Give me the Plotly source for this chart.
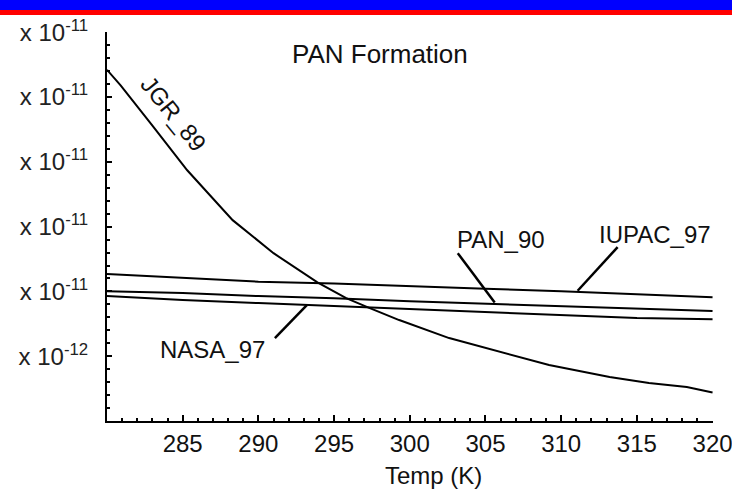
import plotly.graph_objects as go

# ---- data (rate constants in units of 1e-12) ----
temp_jgr = [280, 280.9, 283, 285.3, 288.3, 291, 293.9, 295.8, 297.2, 299.3, 302.6, 309.2, 313.2, 315.8, 318.3, 320]
k_jgr = [27.1, 25.9, 22.8, 19.35, 15.5, 12.95, 10.7, 9.48, 8.79, 7.79, 6.4, 4.32, 3.39, 2.93, 2.62, 2.2]

temp_lin = [280, 285, 290, 295, 300, 305, 310, 315, 320]
k_iupac = [11.35, 11.05, 10.75, 10.62, 10.4, 10.2, 10.02, 9.8, 9.55]
k_pan90 = [10.02, 9.87, 9.64, 9.48, 9.25, 9.06, 8.87, 8.71, 8.48]
k_nasa = [9.64, 9.33, 9.1, 8.87, 8.64, 8.4, 8.13, 7.94, 7.86]

x_tickvals = [285, 290, 295, 300, 305, 310, 315, 320]
x_ticktext = ["285", "290", "295", "300", "305", "310", "315", "320"]
y_tickvals = [5, 10, 15, 20, 25, 30]
NB = "\u00a0"
y_ticktext = ["x" + NB + "10<sup>-12</sup>", "x" + NB + "10<sup>-11</sup>", "x" + NB + "10<sup>-11</sup>",
              "x" + NB + "10<sup>-11</sup>", "x" + NB + "10<sup>-11</sup>", "x" + NB + "10<sup>-11</sup>"]

title_text = "PAN Formation"
x_title = "Temp (K)"

# label text, anchor (T, k), angle, pointer line start/end
labels = [
    ("JGR_89", 284.4, 23.75, 51, None),
    ("PAN_90", 306.0, 14.0, 0, ((303.17, 12.95), (305.61, 9.15))),
    ("IUPAC_97", 316.2, 14.4, 0, ((313.73, 13.42), (311.09, 10.05))),
    ("NASA_97", 287.0, 5.55, 0, ((291.09, 6.4), (293.2, 8.95))),
]

E = 1e-12
FONT = "Liberation Sans, Arial, sans-serif"

fig = go.Figure()
for xs, ks in [(temp_jgr, k_jgr), (temp_lin, k_iupac), (temp_lin, k_pan90), (temp_lin, k_nasa)]:
    fig.add_trace(go.Scatter(x=xs, y=[k * E for k in ks], mode="lines",
                             line=dict(color="black", width=2), showlegend=False,
                             hoverinfo="skip"))

annotations = [
    dict(x=298.0, y=28.3 * E, xref="x", yref="y", text=title_text,
         showarrow=False, font=dict(size=26, color="#111", family=FONT)),
    dict(x=0.538, y=-0.139, xref="paper", yref="paper", text=x_title, yanchor="middle",
         showarrow=False, font=dict(size=24, color="#111", family=FONT)),
]
shapes = []
for text, tx, ty, ang, ptr in labels:
    annotations.append(dict(x=tx, y=ty * E, xref="x", yref="y", text=text, showarrow=False,
                            textangle=ang, font=dict(size=24, color="#111", family=FONT)))
    if ptr:
        (x0, y0), (x1, y1) = ptr
        shapes.append(dict(type="line", xref="x", yref="y", x0=x0, y0=y0 * E, x1=x1, y1=y1 * E,
                           line=dict(color="black", width=2.5)))

# top banner: blue band with red stripe
shapes.append(dict(type="rect", xref="paper", yref="paper", xsizemode="pixel", ysizemode="pixel",
                   xanchor=0, yanchor=1, x0=-107, x1=625, y0=22, y1=33,
                   fillcolor="#0000ff", line=dict(width=0), layer="above"))
shapes.append(dict(type="rect", xref="paper", yref="paper", xsizemode="pixel", ysizemode="pixel",
                   xanchor=0, yanchor=1, x0=-107, x1=625, y0=17, y1=22,
                   fillcolor="#ff0000", line=dict(width=0), layer="above"))

fig.update_layout(
    width=732, height=490,
    margin=dict(l=107, r=19, t=32, b=69),
    paper_bgcolor="white", plot_bgcolor="white",
    font=dict(family=FONT, color="#111"),
    annotations=annotations, shapes=shapes,
    xaxis=dict(range=[280, 320.03], showgrid=False, zeroline=False, automargin=False,
               showline=True, linecolor="black", linewidth=2,
               tickmode="array", tickvals=x_tickvals, ticktext=x_ticktext,
               ticks="inside", ticklen=6, tickwidth=1.5, tickcolor="black",
               ticklabeloverflow="allow",
               tickfont=dict(size=24, family=FONT, color="#111"),
               minor=dict(ticks="inside", ticklen=3, tickwidth=1.5, tickcolor="black",
                          tickmode="linear", tick0=280, dtick=1)),
    yaxis=dict(range=[0, 30.02 * E], showgrid=False, zeroline=False, automargin=False,
               showline=True, linecolor="black", linewidth=2,
               tickmode="array", tickvals=[v * E for v in y_tickvals], ticktext=y_ticktext,
               ticks="inside", ticklen=5, tickwidth=1.5, tickcolor="black",
               tickfont=dict(size=24, family=FONT, color="#222"),
               ticklabelstandoff=12, ticklabeloverflow="allow",
               minor=dict(ticks="inside", ticklen=3, tickwidth=1.5, tickcolor="black",
                          tickmode="linear", tick0=0, dtick=1 * E)),
)

fig.write_html("out.html")
